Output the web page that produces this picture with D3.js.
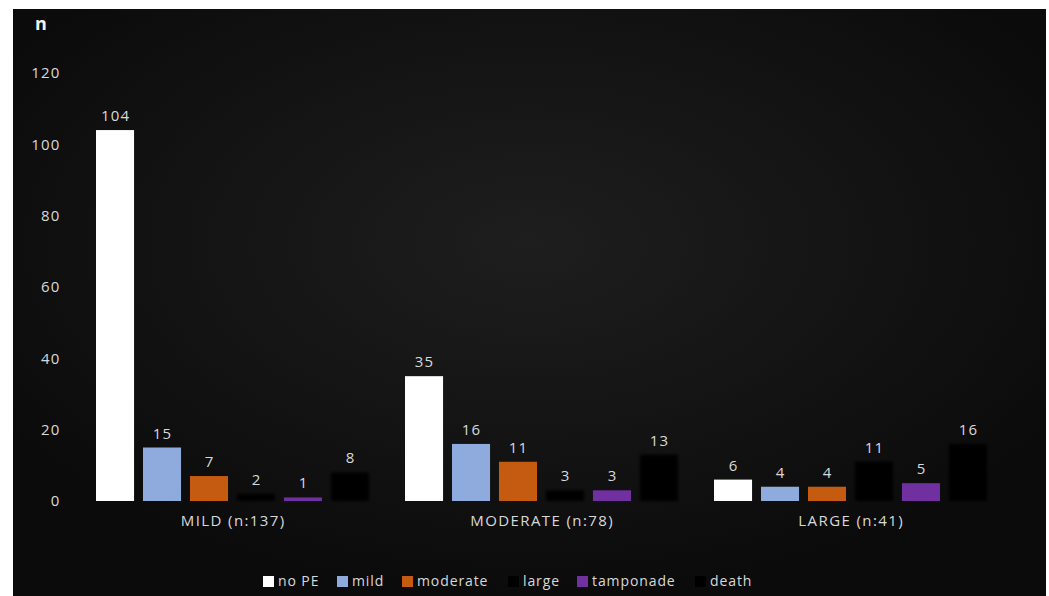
<!DOCTYPE html>
<html>
<head>
<meta charset="utf-8">
<script src="https://cdn.jsdelivr.net/npm/d3@7"></script>
<style>
  html, body { margin: 0; padding: 0; background: #ffffff; }
  svg { display: block; }
  text { font-family: "Open Sans", "Noto Sans", sans-serif; }
</style>
</head>
<body>
<svg id="chart" width="1049" height="596"></svg>
<script>
const categories = ["MILD (n:137)", "MODERATE (n:78)", "LARGE (n:41)"];
const seriesNames = ["no PE", "mild", "moderate", "large", "tamponade", "death"];
const noPE = [104, 35, 6];
const mild = [15, 16, 4];
const moderate = [7, 11, 4];
const large = [2, 3, 11];
const tamponade = [1, 3, 5];
const death = [8, 13, 16];
const yTicks = [0, 20, 40, 60, 80, 100, 120];
const seriesColors = ["#ffffff", "#8faadc", "#c55a11", "#000000", "#7030a0", "#000000"];

const seriesValues = [noPE, mild, moderate, large, tamponade, death];

const svg = d3.select("#chart");

const defs = svg.append("defs");
const grad = defs.append("radialGradient").attr("id", "bg")
  .attr("cx", "50%").attr("cy", "40%").attr("r", "60%");
grad.append("stop").attr("offset", "0%").attr("stop-color", "#1e1e1e");
grad.append("stop").attr("offset", "100%").attr("stop-color", "#0b0b0b");
defs.append("filter").attr("id", "soft").attr("x", "-20%").attr("y", "-20%").attr("width", "140%").attr("height", "140%")
  .append("feGaussianBlur").attr("stdDeviation", 1.6);

svg.append("rect").attr("x", 13).attr("y", 9).attr("width", 1033).attr("height", 587)
  .attr("fill", "url(#bg)");

const x0 = d3.scaleBand().domain(categories).range([78, 1005]).padding(0);
const x1 = d3.scaleBand().domain(seriesNames).range([18, x0.bandwidth() - 18]).paddingInner(0.19).paddingOuter(0);
const y = d3.scaleLinear().domain([0, 120]).range([501, 73]);

// y axis
const yAxis = d3.axisLeft(y).tickValues(yTicks).tickSize(0).tickPadding(0);
const gy = svg.append("g").attr("transform", "translate(60.5,0)").call(yAxis);
gy.select(".domain").remove();
gy.selectAll("text").attr("fill", "#d9d9d9").style("font-size", "15px")
  .style("letter-spacing", "1.2px")
  .style("font-family", "'Open Sans', sans-serif");

svg.append("text").attr("x", 35).attr("y", 30).text("n")
  .attr("fill", "#f2f2f2").style("font-size", "18px").style("font-weight", "bold");

// bars
const groups = svg.append("g").selectAll("g").data(categories).join("g")
  .attr("transform", d => `translate(${x0(d)},0)`);

groups.each(function(cat, ci) {
  const g = d3.select(this);
  seriesNames.forEach((s, si) => {
    const v = seriesValues[si][ci];
    const isBlack = seriesColors[si] === "#000000";
    g.append("rect")
      .attr("x", x1(s)).attr("width", x1.bandwidth())
      .attr("y", y(v)).attr("height", y(0) - y(v))
      .attr("fill", seriesColors[si])
      .attr("filter", isBlack ? "url(#soft)" : null);
    g.append("text")
      .attr("x", x1(s) + x1.bandwidth() / 2 + 0.6).attr("y", y(v) - 9)
      .attr("text-anchor", "middle").attr("fill", "#d9d9d9")
      .style("font-size", "15px").style("letter-spacing", "1.2px").text(v);
  });
});

// category labels
svg.append("g").selectAll("text").data(categories).join("text")
  .attr("x", d => x0(d) + x0.bandwidth() / 2 + 0.7).attr("y", 526)
  .attr("text-anchor", "middle").attr("fill", "#d9d9d9")
  .style("font-size", "15px").style("letter-spacing", "1.4px").text(d => d);

// legend
const legendX = [263, 337, 402, 508, 577, 695];
const lg = svg.append("g").selectAll("g").data(seriesNames).join("g")
  .attr("transform", (d, i) => `translate(${legendX[i]},575)`);
lg.append("rect").attr("width", 11).attr("height", 11).attr("y", 1)
  .attr("fill", (d, i) => seriesColors[i]);
lg.append("text").attr("x", 15).attr("y", 10.5).attr("fill", "#d9d9d9")
  .style("font-size", "14px").style("letter-spacing", "0.9px").text(d => d);
</script>
</body>
</html>
